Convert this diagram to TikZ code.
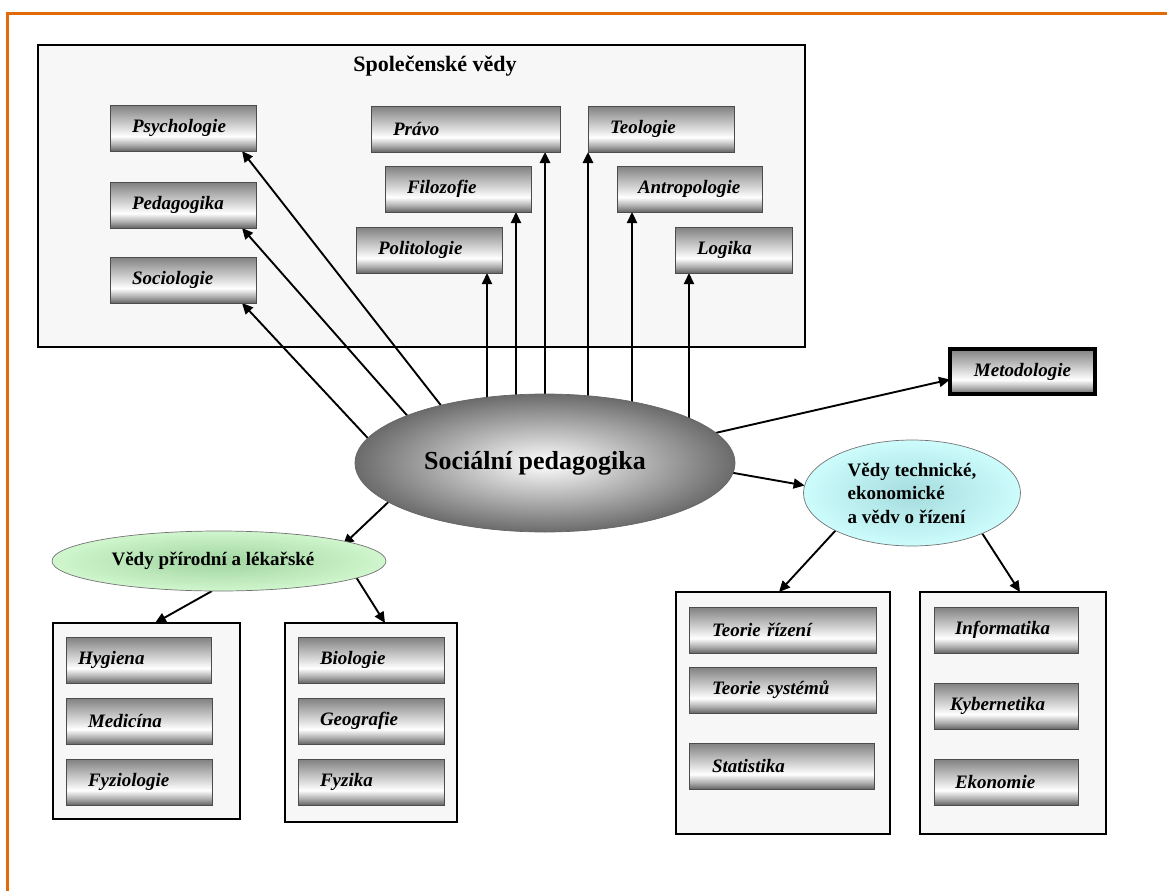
\documentclass[tikz,border=0pt]{standalone}
\usepackage{fontspec}
\setmainfont{Liberation Serif}
\usetikzlibrary{arrows.meta,calc,shapes.geometric}

\pgfdeclarelayer{bg}
\pgfdeclarelayer{lines}
\pgfsetlayers{bg,lines,main}

\definecolor{framefill}{RGB}{247,247,247}
\definecolor{pageorange}{RGB}{226,106,8}
\definecolor{chromeB}{RGB}{100,100,100}
\definecolor{chromeM}{RGB}{175,175,175}
\definecolor{chromeT}{RGB}{128,128,128}
\definecolor{techin}{RGB}{165,220,222}
\definecolor{techout}{RGB}{205,252,252}
\definecolor{natin}{RGB}{160,212,160}
\definecolor{natout}{RGB}{208,246,205}

\pgfdeclareverticalshading{chrome}{100bp}{color(0bp)=(chromeB); color(25bp)=(chromeB); color(32bp)=(chromeM); color(41bp)=(white); color(75bp)=(chromeT); color(100bp)=(chromeT)}

\tikzset{every picture/.style={line width=0.75pt}}
\tikzset{
  pageline/.style={draw=pageorange, line width=3.4pt},
  frame/.style={draw=black, line width=2pt, fill=framefill, outer sep=0pt, inner sep=0pt, anchor=north west},
  subj/.style={draw=black!70, line width=0.9pt, shading=chrome, outer sep=0pt, inner ysep=0pt, inner xsep=22pt,
    minimum height=46pt, text width=#1, align=left, anchor=north west,
    font=\fontsize{19}{22}\selectfont\bfseries\itshape},
  arr/.style={line width=1.9pt, -{Triangle[length=11pt,width=10pt]}},
  bigarr/.style={arr, line width=2.6pt},
  field/.style={ellipse, line width=0.7pt, inner sep=0pt, outer sep=0pt, font=\fontsize{19}{23.5}\selectfont\bfseries},
}

\begin{document}
\begin{tikzpicture}[x=1pt,y=1pt,yscale=-1,xscale=1]
\path[use as bounding box] (0,0) rectangle (1167,891);

%Straight Lines (page frame)
\draw[pageline] (7.5,891) -- (7.5,13.5) -- (1167,13.5);

\begin{pgfonlayer}{bg}
%Shape: Rectangle
\node[frame, minimum width=767pt, minimum height=302pt] (socfr) at (38,45) {};
%Shape: Rectangle
\node[frame, minimum width=187pt, minimum height=196pt] (natA) at (53,623) {};
%Shape: Rectangle
\node[frame, minimum width=172pt, minimum height=199pt] (natB) at (285,623) {};
%Shape: Rectangle
\node[frame, minimum width=214pt, minimum height=242pt] (techA) at (676,592) {};
%Shape: Rectangle
\node[frame, minimum width=186pt, minimum height=242pt] (techB) at (920,592) {};
\end{pgfonlayer}

% Text Node
\node[font=\fontsize{22}{26}\selectfont\bfseries] (soctitle) at (435,66) {Společenské vědy};

%Shape: Rectangle
\node[subj=102pt] (psych) at (110,105) {Psychologie};
\node[subj=102pt] (peda) at (110,182) {Pedagogika};
\node[subj=102pt] (socio) at (110,257) {Sociologie};
\node[subj=145pt] (pravo) at (371,106) {Právo};
\node[subj=102pt] (filo) at (385,166) {Filozofie};
\node[subj=102pt] (polit) at (356,227) {Politologie};
\node[subj=102pt] (teol) at (588,106) {Teologie};
\node[subj=103pt, inner xsep=21pt] (antro) at (617,166) {Antropologie};
\node[subj=73pt] (logika) at (675,227) {Logika};

\node[subj=121pt, inner xsep=12pt] (hyg) at (66,637) {Hygiena};
\node[subj=102pt] (medic) at (66,698) {Medicína};
\node[subj=102pt] (fyzio) at (66,759) {Fyziologie};
\node[subj=102pt] (bio) at (298,637) {Biologie};
\node[subj=102pt] (geo) at (298,698) {Geografie};
\node[subj=102pt] (fyzika) at (298,759) {Fyzika};

\node[subj=141pt, inner xsep=23pt] (teorr) at (689,607) {Teorie řízení};
\node[subj=141pt, inner xsep=23pt] (teors) at (689,667) {Teorie systémů};
\node[subj=139pt, inner xsep=23pt] (stat) at (689,743) {Statistika};
\node[subj=102pt, inner xsep=21pt] (info) at (934,607) {Informatika};
\node[subj=112pt, inner xsep=16pt] (kyber) at (934,683) {Kybernetika};
\node[subj=102pt, inner xsep=21pt] (ekon) at (934,759) {Ekonomie};

%Shape: Rectangle
\node[draw=black, line width=4pt, shading=chrome, outer sep=0pt, inner sep=0pt, minimum width=145pt, minimum height=45pt,
  anchor=north west, font=\fontsize{19}{22}\selectfont\bfseries\itshape] (metod) at (950,349) {Metodologie};

%Shape: Ellipse
\node[field, draw=black!60, minimum width=380pt, minimum height=138pt, inner color=white, outer color=black!58,
  font=\fontsize{26}{30}\selectfont\bfseries] (socped) at (545,463) {\hspace*{-20pt}Sociální pedagogika};
%Shape: Ellipse
\node[field, draw=black!55, minimum width=217pt, minimum height=106pt, inner color=techin, outer color=techout,
  align=left] (tech) at (912,493) {Vědy technické,\\ekonomické\\a vědv o řízení};
%Shape: Ellipse
\node[field, draw=black!55, minimum width=334pt, minimum height=60pt, inner color=natin, outer color=natout] (nat) at (219,561) {\hspace*{-12pt}Vědy přírodní a lékařské};

\coordinate (politT) at ($(polit.south east)+(-15,0)$);
\coordinate (filoT) at ($(filo.south east)+(-15,0)$);
\coordinate (pravoT) at ($(pravo.south east)+(-15,0)$);
\coordinate (teolT) at (teol.south west);
\coordinate (antroT) at ($(antro.south west)+(15,0)$);
\coordinate (logikaT) at ($(logika.south west)+(14,0)$);

\begin{pgfonlayer}{lines}
%Straight Lines
\draw[arr] (socped.151) -- ($(psych.south east)+(-14,0)$);
\draw[arr] (socped.161) -- ($(peda.south east)+(-14,0)$);
\draw[arr] (socped.172) -- ($(socio.south east)+(-14,0)$);
\draw[arr] (politT |- socped.center) -- (politT);
\draw[arr] (filoT |- socped.center) -- (filoT);
\draw[bigarr] (pravoT |- socped.center) -- (pravoT);
\draw[bigarr] (teolT |- socped.center) -- (teolT);
\draw[arr, line width=2.2pt] (antroT |- socped.center) -- (antroT);
\draw[arr] (logikaT |- socped.center) -- (logikaT);
\draw[arr] (socped.10) -- ($(metod.west)+(0,8)$);
\draw[arr] (socped.-3) -- (tech.176);
\draw[arr] (socped.194) -- ($(nat.center)+(124,-16)$);
\draw[arr] ($(nat.south)+(-7,0)$) -- ($(natA.north)+(8.5,0)$);
\draw[arr] ($(nat.center)+(137,16)$) -- ($(natB.north)+(14,0)$);
\draw[arr] ($(tech.center)+(-76,37)$) -- ($(techA.north)+(-4,0)$);
\draw[arr] ($(tech.center)+(68,37)$) -- ($(techB.north)+(7,0)$);
\end{pgfonlayer}

\end{tikzpicture}
\end{document}
